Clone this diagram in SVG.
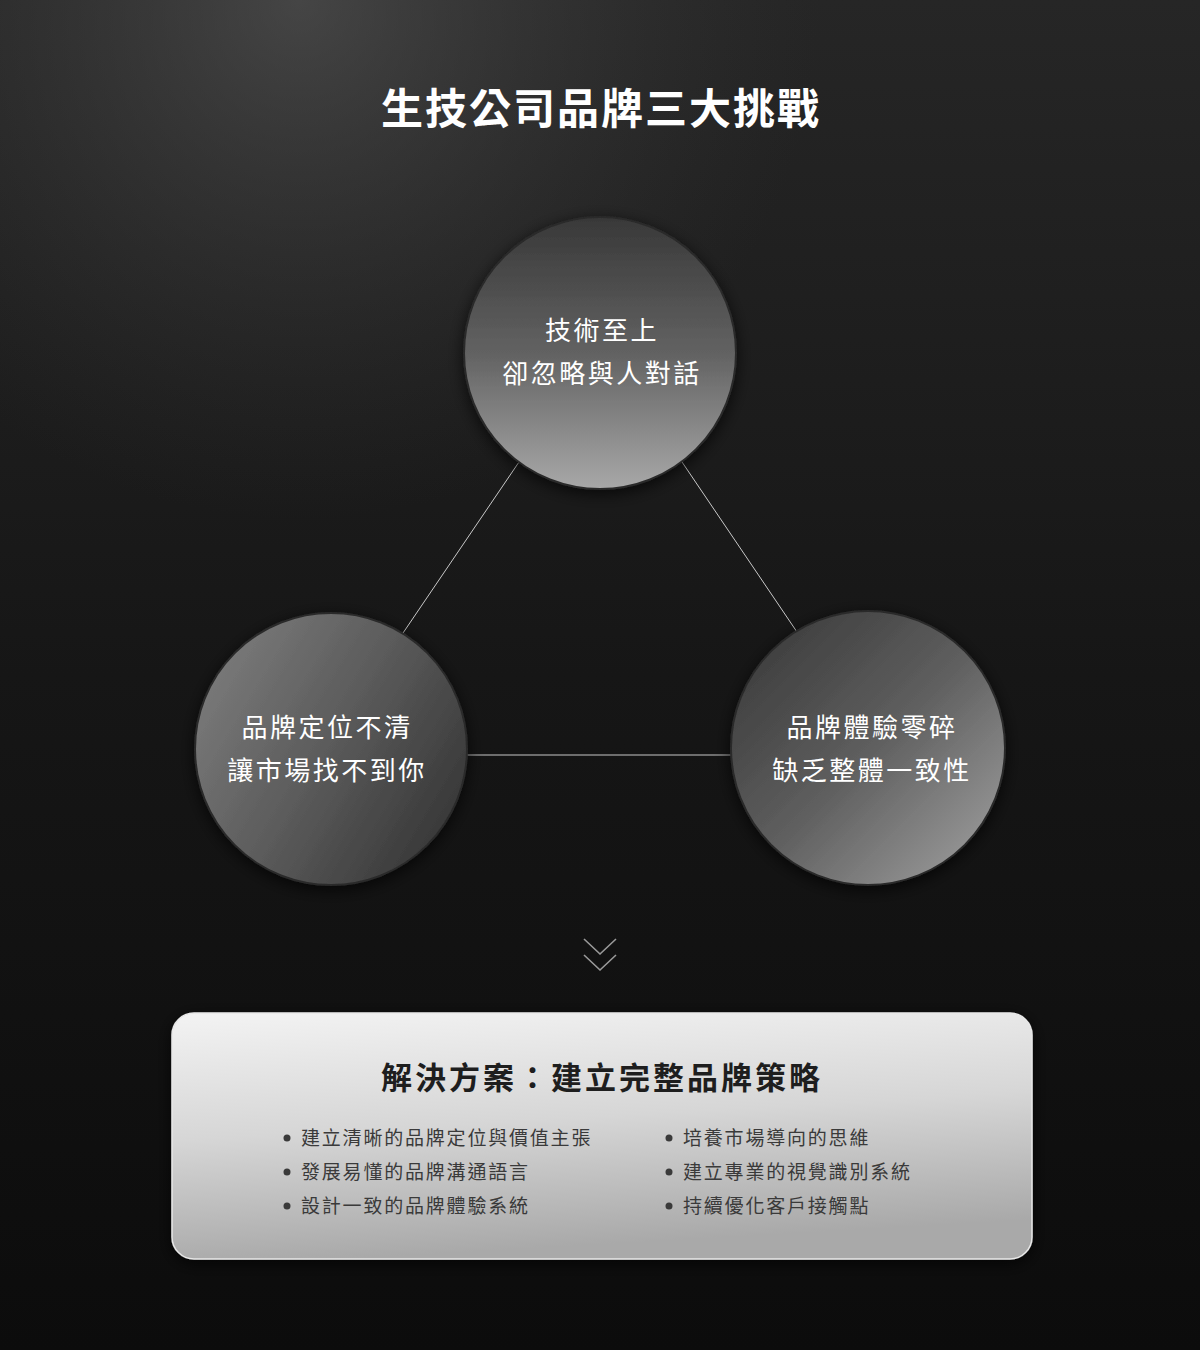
<svg xmlns="http://www.w3.org/2000/svg" width="1200" height="1350" viewBox="0 0 1200 1350">
<defs>
<linearGradient id="bg" x1="0" y1="0" x2="0" y2="1">
<stop offset="0" stop-color="#262626"/>
<stop offset="0.5" stop-color="#161616"/>
<stop offset="1" stop-color="#0c0c0c"/>
</linearGradient>
<radialGradient id="glow" cx="300" cy="0" r="520" gradientUnits="userSpaceOnUse">
<stop offset="0" stop-color="#5a5a5a" stop-opacity="0.6"/>
<stop offset="1" stop-color="#3a3a3a" stop-opacity="0"/>
</radialGradient>
<linearGradient id="gTop" x1="0" y1="0" x2="0" y2="1">
<stop offset="0" stop-color="#383838"/>
<stop offset="0.5" stop-color="#626262"/>
<stop offset="1" stop-color="#a8a8a8"/>
</linearGradient>
<linearGradient id="gLeft" x1="0" y1="0.2" x2="1" y2="0.8">
<stop offset="0" stop-color="#7c7c7c"/>
<stop offset="0.5" stop-color="#5a5a5a"/>
<stop offset="1" stop-color="#343434"/>
</linearGradient>
<linearGradient id="gRight" x1="0" y1="0" x2="1" y2="1">
<stop offset="0" stop-color="#353535"/>
<stop offset="0.5" stop-color="#5e5e5e"/>
<stop offset="1" stop-color="#a5a5a5"/>
</linearGradient>
<linearGradient id="gBox" x1="0" y1="0" x2="0.2" y2="1">
<stop offset="0" stop-color="#f3f3f3"/>
<stop offset="0.5" stop-color="#d6d6d6"/>
<stop offset="1" stop-color="#a9a9a9"/>
</linearGradient>
<filter id="sh" x="-30%" y="-30%" width="160%" height="160%">
<feDropShadow dx="0" dy="4" stdDeviation="8" flood-color="#000" flood-opacity="0.7"/>
</filter>
<style>
.title{font-family:"Noto Sans CJK TC","Noto Sans CJK SC",sans-serif;font-weight:700;font-size:42px;fill:#ffffff;letter-spacing:2px}
.ct{font-family:"Noto Sans CJK TC","Noto Sans CJK SC",sans-serif;font-size:26px;fill:#ffffff;letter-spacing:2.5px}
.circle{stroke:#2a2a2a;stroke-width:2}
.conn{stroke:#c8c8c8;stroke-width:1;fill:none}
.chev{stroke:#9a9a9a;stroke-width:1.6;fill:none}
.bt{font-family:"Noto Sans CJK TC","Noto Sans CJK SC",sans-serif;font-weight:700;font-size:31px;fill:#1e1e1e;letter-spacing:3px}
.li{font-family:"Noto Sans CJK TC","Noto Sans CJK SC",sans-serif;font-size:19px;fill:#3a3a3a;letter-spacing:1.8px}
.dot{fill:#3a3a3a}
</style>
</defs>
<rect width="1200" height="1350" fill="url(#bg)"/>
<rect width="1200" height="700" fill="url(#glow)"/>

<text class="title" x="601" y="124" text-anchor="middle">生技公司品牌三大挑戰</text>

<g id="connectors">
<line class="conn" x1="519" y1="462" x2="403" y2="633"/>
<line class="conn" x1="682" y1="462" x2="797" y2="632"/>
<line class="conn" x1="467" y1="755" x2="731" y2="755"/>
</g>

<g id="node-top">
<circle class="circle" cx="600" cy="353" r="136" fill="url(#gTop)" filter="url(#sh)"/>
<text class="ct" x="602" y="340" text-anchor="middle">技術至上</text>
<text class="ct" x="602" y="383" text-anchor="middle">卻忽略與人對話</text>
</g>

<g id="node-left">
<circle class="circle" cx="331" cy="749" r="136" fill="url(#gLeft)" filter="url(#sh)"/>
<text class="ct" x="327" y="737" text-anchor="middle">品牌定位不清</text>
<text class="ct" x="327" y="780" text-anchor="middle">讓市場找不到你</text>
</g>

<g id="node-right">
<circle class="circle" cx="868" cy="748" r="137" fill="url(#gRight)" filter="url(#sh)"/>
<text class="ct" x="872" y="737" text-anchor="middle">品牌體驗零碎</text>
<text class="ct" x="872" y="780" text-anchor="middle">缺乏整體一致性</text>
</g>

<g id="chevron">
<polyline class="chev" points="584,939 600,954 616,939"/>
<polyline class="chev" points="584,955 600,970 616,955"/>
</g>

<g id="solution">
<rect x="172" y="1013" width="860" height="246" rx="22" fill="url(#gBox)" stroke="#e8e8e8" stroke-width="1.5" filter="url(#sh)"/>
<text class="bt" x="602" y="1089" text-anchor="middle">解決方案：建立完整品牌策略</text>
<circle class="dot" cx="287" cy="1138" r="3.5"/>
<circle class="dot" cx="287" cy="1172" r="3.5"/>
<circle class="dot" cx="287" cy="1206" r="3.5"/>
<text class="li" x="301" y="1145">建立清晰的品牌定位與價值主張</text>
<text class="li" x="301" y="1179">發展易懂的品牌溝通語言</text>
<text class="li" x="301" y="1213">設計一致的品牌體驗系統</text>
<circle class="dot" cx="669" cy="1138" r="3.5"/>
<circle class="dot" cx="669" cy="1172" r="3.5"/>
<circle class="dot" cx="669" cy="1206" r="3.5"/>
<text class="li" x="683" y="1145">培養市場導向的思維</text>
<text class="li" x="683" y="1179">建立專業的視覺識別系統</text>
<text class="li" x="683" y="1213">持續優化客戶接觸點</text>
</g>
</svg>
